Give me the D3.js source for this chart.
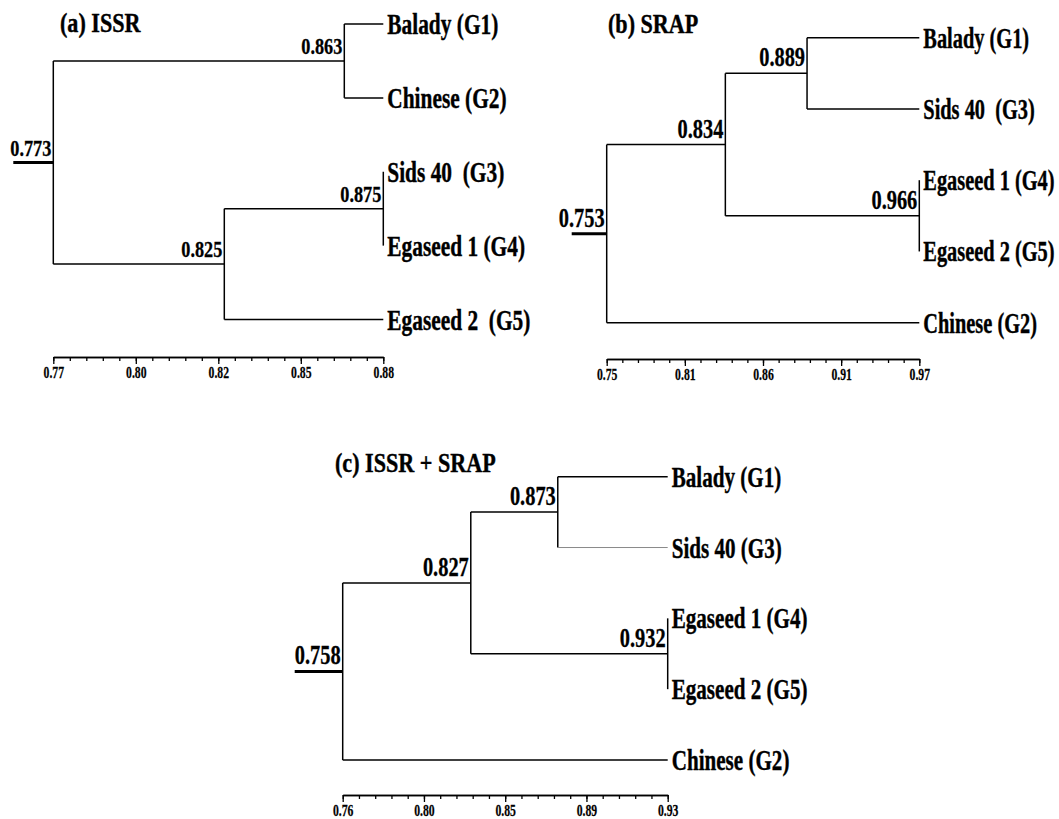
<!DOCTYPE html>
<html>
<head>
<meta charset="utf-8">
<script src="https://cdn.jsdelivr.net/npm/d3@7"></script>
<style>
  body { margin: 0; background: #fff; }
  text { font-family: 'Liberation Serif', 'Times New Roman', serif; font-weight: bold; fill: #000; white-space: pre; }
</style>
</head>
<body>
<div id="chart"></div>
<script>
// (a) ISSR
const issrLeaves = ['Balady (G1)', 'Chinese (G2)', 'Sids 40  (G3)', 'Egaseed 1 (G4)', 'Egaseed 2  (G5)']
const issrTree = [[0, 1], [[2, 3], 4]]
const issrNodeLabels = ['0.773', '0.863', '0.825', '0.875']
const issrNodePos = [0.770, 0.867, 0.827, 0.880]
const issrTicks = ['0.77', '0.80', '0.82', '0.85', '0.88']
const issrDomain = [0.77, 0.88]

// (b) SRAP
const srapLeaves = ['Balady (G1)', 'Sids 40  (G3)', 'Egaseed 1 (G4)', 'Egaseed 2 (G5)', 'Chinese (G2)']
const srapTree = [[[0, 1], [2, 3]], 4]
const srapNodeLabels = ['0.753', '0.834', '0.889', '0.966']
const srapNodePos = [0.750, 0.8335, 0.891, 0.970]
const srapTicks = ['0.75', '0.81', '0.86', '0.91', '0.97']
const srapDomain = [0.75, 0.97]

// (c) ISSR + SRAP
const bothLeaves = ['Balady (G1)', 'Sids 40 (G3)', 'Egaseed 1 (G4)', 'Egaseed 2 (G5)', 'Chinese (G2)']
const bothTree = [[[0, 1], [2, 3]], 4]
const bothNodeLabels = ['0.758', '0.827', '0.873', '0.932']
const bothNodePos = [0.760, 0.827, 0.8725, 0.930]
const bothTicks = ['0.76', '0.80', '0.85', '0.89', '0.93']
const bothDomain = [0.76, 0.93]

const svg = d3
  .select('#chart')
  .append('svg')
  .attr('width', 1059)
  .attr('height', 819)

// turn the nested index arrays into a tree, internal nodes in pre-order
function buildTree(nested, leaves, labels, positions) {
  let k = 0
  function walk(n) {
    if (typeof n === 'number') return { name: leaves[n] }
    const node = { label: labels[k], pos: positions[k] }
    k++
    node.children = n.map(walk)
    return node
  }
  return walk(nested)
}

// the figure's type is a tall, squeezed bold serif
function addText(g, x, y, txt, size, anchor, sx, weight) {
  return g
    .append('text')
    .attr('transform', 'translate(' + x + ',' + y + ') scale(' + sx + ',1)')
    .attr('text-anchor', anchor)
    .attr('font-size', size)
    .attr('stroke', '#000')
    .attr('stroke-width', weight)
    .attr('xml:space', 'preserve')
    .text(txt)
}

function drawPanel(cfg) {
  const g = svg.append('g')

  const xScale = d3.scaleLinear().domain(cfg.domain).range(cfg.xRange)

  const root = d3.hierarchy(buildTree(cfg.tree, cfg.leaves, cfg.labels, cfg.positions))
  const yScale = d3
    .scalePoint()
    .domain(root.leaves().map(d => d.data.name))
    .range(cfg.yRange)

  // leaves sit on the right edge, joins at the mean of their children
  root.eachAfter(d => {
    if (d.children) {
      d.py = d3.mean(d.children, c => c.py)
      d.px = xScale(d.data.pos)
    } else {
      d.py = yScale(d.data.name)
      d.px = cfg.xRange[1]
    }
  })

  root.each(d => {
    if (!d.children) return
    const ys = d.children.map(c => c.py)
    g.append('line')
      .attr('x1', d.px).attr('x2', d.px)
      .attr('y1', d3.min(ys)).attr('y2', d3.max(ys))
      .attr('stroke', '#000').attr('stroke-width', 1.5)
    d.children.forEach(c => {
      const thin = c.data.name && c.data.name === cfg.thinLeaf
      g.append('line')
        .attr('x1', d.px).attr('x2', c.px)
        .attr('y1', c.py).attr('y2', c.py)
        .attr('stroke', thin ? '#8a8a8a' : '#000')
        .attr('stroke-width', thin ? 1 : 1.5)
    })
    addText(g, d.px - 2, d.py - 7, d.data.label, cfg.nodeSize, 'end', cfg.nodeSx, 0.3)
  })

  // root stub
  g.append('line')
    .attr('x1', root.px - cfg.stub).attr('x2', root.px)
    .attr('y1', root.py).attr('y2', root.py)
    .attr('stroke', '#000').attr('stroke-width', 3)

  root.leaves().forEach(d => {
    addText(g, d.px + 4, d.py + 10, d.data.name, 28.5, 'start', cfg.leafSx, 0.4)
  })

  addText(g, cfg.title[1], cfg.title[2], cfg.title[0], 27, 'start', 0.82, 0.4)

  // axis: five labelled ticks, four minor ones in between each
  const [d0, d1] = cfg.domain
  const major = cfg.ticks.map((t, i) => d0 + (d1 - d0) * i / (cfg.ticks.length - 1))
  const minor = d3.range(0, 21).map(i => d0 + (d1 - d0) * i / 20)

  const minorAxis = d3.axisBottom(xScale).tickValues(minor).tickSize(4).tickSizeOuter(0).tickFormat('')
  const majorAxis = d3
    .axisBottom(xScale)
    .tickValues(major)
    .tickSize(7)
    .tickSizeOuter(0)
    .tickFormat((d, i) => cfg.ticks[i])

  const ax = g.append('g').attr('transform', 'translate(0,' + cfg.axisY + ')')
  ax.append('g').call(minorAxis)
  ax.append('g').call(majorAxis)
  ax.selectAll('path, line').attr('stroke', '#000').attr('stroke-width', 1.3)
  ax.selectAll('text')
    .attr('y', 21.5)
    .attr('dy', 0)
    .attr('font-size', 17)
    .attr('font-family', null)
    .attr('fill', '#000')
    .attr('stroke', '#000')
    .attr('stroke-width', 0.25)
    .attr('transform', 'scale(0.69,1)')
}

drawPanel({
  tree: issrTree, leaves: issrLeaves, labels: issrNodeLabels, positions: issrNodePos,
  ticks: issrTicks, domain: issrDomain,
  xRange: [53.3, 383.3], yRange: [24, 319.5], axisY: 357, stub: 40,
  nodeSize: 24, nodeSx: 0.76, leafSx: 0.75, title: ['(a) ISSR', 60, 32]
})

drawPanel({
  tree: srapTree, leaves: srapLeaves, labels: srapNodeLabels, positions: srapNodePos,
  ticks: srapTicks, domain: srapDomain,
  xRange: [606.7, 919.3], yRange: [37.7, 322.7], axisY: 359, stub: 35,
  nodeSize: 26.5, nodeSx: 0.77, leafSx: 0.715, title: ['(b) SRAP', 608, 33]
})

drawPanel({
  tree: bothTree, leaves: bothLeaves, labels: bothNodeLabels, positions: bothNodePos,
  ticks: bothTicks, domain: bothDomain,
  xRange: [342.7, 667.7], yRange: [476.7, 760], axisY: 795, stub: 48,
  nodeSize: 26.5, nodeSx: 0.77, leafSx: 0.74, title: ['(c) ISSR + SRAP', 335, 471.5], thinLeaf: 'Sids 40 (G3)'
})
</script>
</body>
</html>
